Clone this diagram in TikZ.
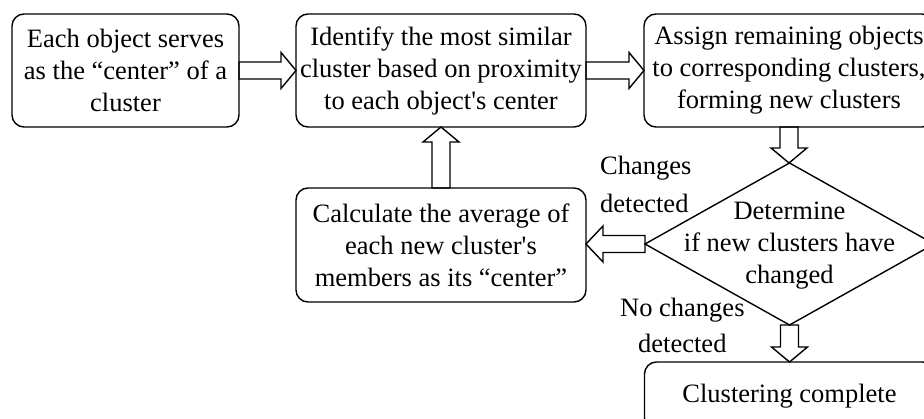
\documentclass[tikz,border=0pt]{standalone}
\usepackage{fontspec}
\setmainfont{Liberation Serif}[Ligatures=TeXOff]
\usetikzlibrary{shapes.geometric,calc}
\newcommand\harr[3]{\draw[blk] let \p1=(#1),\p2=(#2) in (\x1,\y1+8.5pt) -- ({\x2-(#3)},\y1+8.5pt) -- ({\x2-(#3)},\y1+18pt) -- (\x2,\y1) -- ({\x2-(#3)},\y1-18pt) -- ({\x2-(#3)},\y1-8.5pt) -- (\x1,\y1-8.5pt) -- cycle;}
\newcommand\varr[3]{\draw[blk] let \p1=(#1),\p2=(#2) in (\x1+9pt,\y1) -- (\x1+9pt,{\y2-(#3)}) -- (\x1+18pt,{\y2-(#3)}) -- (\x1,\y2) -- (\x1-18pt,{\y2-(#3)}) -- (\x1-9pt,{\y2-(#3)}) -- (\x1-9pt,\y1) -- cycle;}
\begin{document}
\begin{tikzpicture}[x=1pt,y=-1pt,
  box/.style={draw,line width=1.4pt,rounded corners=12pt,align=center,inner sep=0pt,outer sep=0pt},
  txt/.style={font=\fontsize{26.5}{32}\selectfont},
  blk/.style={draw,line width=1.4pt,line join=miter},
  lbl/.style={txt,anchor=base west,inner sep=0pt},
]
\useasboundingbox (0,0) rectangle (924,419);
\node[box,txt,minimum width=227pt,minimum height=113pt] (b1) at (125.5,70.5) {Each object serves\\as the “center” of a\\cluster};
\node[box,txt,minimum width=290pt,minimum height=113pt] (b2) at (441,70.5) {Identify the most similar\\cluster based on proximity\\to each object's center};
\node[box,txt,minimum width=290pt,minimum height=113pt] (b3) at (789,70.5) {Assign remaining objects\\to corresponding clusters,\\forming new clusters};
\node[box,txt,minimum width=290pt,minimum height=114pt] (b4) at (441,245) {Calculate the average of\\each new cluster's\\members as its “center”};
\node[draw,diamond,line width=1.4pt,minimum width=289pt,minimum height=162pt,inner sep=0pt,outer sep=0pt] (dia) at (789.5,244) {};
\node[txt,align=center,inner sep=0pt] (diat) at (789.5,246) {Determine\\if new clusters have\\changed};
\node[box,txt,minimum width=290pt,minimum height=68pt] (b5) at (789.5,396) {Clustering complete};
\node[lbl] (l1) at (600,175) {Changes};
\node[lbl] (l2) at (600,213) {detected};
\node[lbl] (l3) at (620,317) {No changes};
\node[lbl] (l4) at (638,353) {detected};
\harr{b1.east}{b2.west}{15pt}
\harr{b2.east}{b3.west}{15pt}
\varr{b3.south}{dia.north}{-15pt}
\varr{b4.north}{b2.south}{15pt}
\harr{dia.west}{b4.east}{-17pt}
\varr{dia.south}{b5.north}{-15pt}
\end{tikzpicture}
\end{document}
